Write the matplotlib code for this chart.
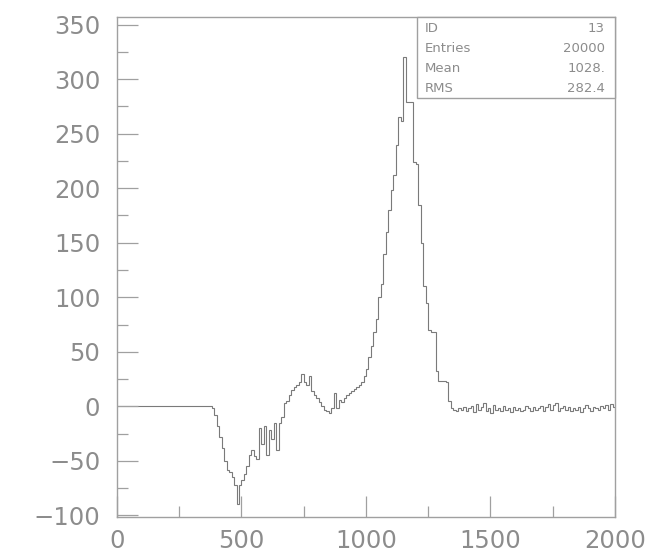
import numpy as np
import matplotlib
matplotlib.use("Agg")
import matplotlib.pyplot as plt
from matplotlib.ticker import MultipleLocator

# Histogram: 200 bins of width 10 over [0, 2000]
bin_lo, bin_hi, n_bins = 0, 2000, 200

flat_zero = [0] * 38  # 0 .. 380

dip_region = [  # 380 .. 670
    -2, -8, -18, -28, -38, -50, -58, -60, -65, -72,
    -90, -72, -68, -62, -55, -45, -40, -46, -48, -20,
    -35, -18, -45, -22, -30, -15, -40, -15, -10,
]

bump_region = [  # 670 .. 1000
    3, 5, 10, 15, 18, 20, 22, 30, 22, 20,
    28, 14, 10, 8, 4, 0, -3, -4, -6, -2,
    12, -2, 6, 4, 8, 10, 12, 14, 16, 18,
    20, 22, 28,
]

peak_region = [  # 1000 .. 1350
    34, 45, 55, 68, 80, 100, 112, 140, 160, 180,
    198, 212, 240, 265, 262, 320, 279, 279, 279, 224,
    222, 185, 150, 110, 95, 70, 68, 68, 32, 23,
    23, 23, 22, 5, -2,
]

tail_region = [  # 1350 .. 2000
    -3, -4, -2, -3, -1, -4, -2, 0, -5, 2,
    -3, -1, 3, -4, -2, -6, 1, -3, -2, -4,
    0, -3, -2, -5, -1, -3, -2, -4, -3, 0,
    -2, -4, -1, -3, -2, 0, -4, -1, 2, -3,
    1, 3, -4, -2, 0, -3, -1, -4, -2, -3,
    -1, -5, -2, 1, -2, -4, -1, -2, -3, 0,
    -2, 1, -3, 2, -1,
]

counts = np.array(flat_zero + dip_region + bump_region + peak_region + tail_region, dtype=float)
edges = np.linspace(bin_lo, bin_hi, n_bins + 1)

stats_labels = ["ID", "Entries", "Mean", "RMS"]
stats_values = ["13", "20000", "1028.", "282.4"]

x_ticks = [0, 500, 1000, 1500, 2000]
y_ticks = [-100, -50, 0, 50, 100, 150, 200, 250, 300, 350]

plt.rcParams['font.family'] = ['DejaVu Sans']
W, H = 657, 559
fig = plt.figure(figsize=(W / 100, H / 100), dpi=100)
ax = fig.add_axes([117 / W, 1 - 517 / H, (615 - 117) / W, (517 - 17) / H])

line_c = '#7a7a7a'
frame_c = '#a0a0a0'
text_c = '#8c8c8c'

n = min(len(counts), n_bins)
ax.stairs(counts[:n], edges[:n + 1], color=line_c, linewidth=0.8)

ax.set_xlim(bin_lo, bin_hi)
ax.set_ylim(-101.5, 357)

ax.set_xticks(x_ticks)
ax.set_yticks(y_ticks)
ax.xaxis.set_minor_locator(MultipleLocator(250))
ax.yaxis.set_minor_locator(MultipleLocator(25))
ax.tick_params(which='major', direction='in', length=15, width=0.9, color=frame_c,
               labelsize=17.5, labelcolor=text_c, top=False, right=False)
ax.tick_params(which='minor', direction='in', length=8, width=0.9, color=frame_c,
               top=False, right=False)
ax.tick_params(axis='x', which='major', pad=9)
ax.tick_params(axis='y', which='major', pad=12)
ax.yaxis.set_major_formatter(matplotlib.ticker.FuncFormatter(
    lambda v, p: ("\u2212" + str(int(abs(v)))) if v < 0 else str(int(v))))

for s in ax.spines.values():
    s.set_color(frame_c)
    s.set_linewidth(1.0)

# statistics box
bx0, bx1 = (417 - 117) / (615 - 117), 1.0
by1, by0 = 1.0, 1 - (98 - 17) / (517 - 17)
ax.add_patch(plt.Rectangle((bx0, by0), bx1 - bx0, by1 - by0, transform=ax.transAxes,
                           fill=True, facecolor='white', edgecolor=frame_c,
                           linewidth=1.0, zorder=5, clip_on=False))
row_h = (by1 - by0) / 4
for i, (lab, val) in enumerate(zip(stats_labels, stats_values)):
    yy = by1 - row_h * (i + 0.55)
    ax.text(bx0 + 0.015, yy, lab, transform=ax.transAxes, ha='left', va='center',
            fontsize=9.5, color=text_c, zorder=6)
    ax.text(bx1 - 0.02, yy, val, transform=ax.transAxes, ha='right', va='center',
            fontsize=9.5, color=text_c, zorder=6)

fig.savefig('out.png', dpi=100, facecolor='white')
